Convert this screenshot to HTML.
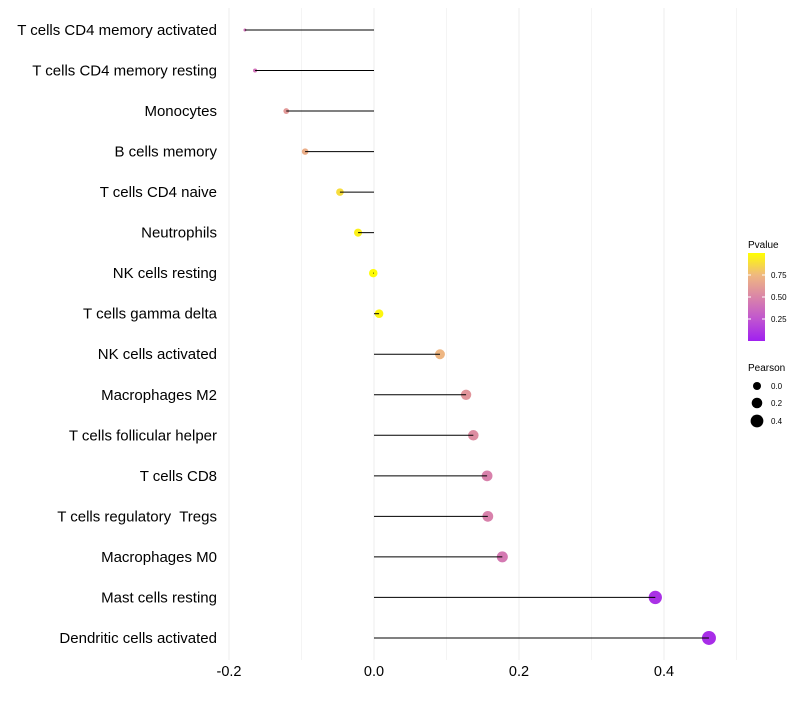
<!DOCTYPE html>
<html><head><meta charset="utf-8"><style>
body{margin:0;background:#fff;font-family:"Liberation Sans",sans-serif}
text{white-space:pre}
</style></head><body>
<svg id="chart" width="800" height="700" xmlns="http://www.w3.org/2000/svg" font-family="Liberation Sans, sans-serif">
<defs><linearGradient id="pg" x1="0" y1="1" x2="0" y2="0">
<stop offset="0" stop-color="#A020F0"/><stop offset="0.25" stop-color="#C055D0"/><stop offset="0.5" stop-color="#DA85A8"/><stop offset="0.75" stop-color="#EFB880"/><stop offset="1" stop-color="#FFFF00"/>
</linearGradient></defs>
<g id="grid"></g><g id="marks"></g><g id="labels"></g>
<g>
<text x="748" y="248" font-size="10" fill="#000">Pvalue</text>
<rect x="748" y="253" width="17" height="88" fill="url(#pg)"/>
<line x1="748" y1="275" x2="751" y2="275" stroke="#fff"/><line x1="762" y1="275" x2="765" y2="275" stroke="#fff"/>
<line x1="748" y1="297" x2="751" y2="297" stroke="#fff"/><line x1="762" y1="297" x2="765" y2="297" stroke="#fff"/>
<line x1="748" y1="319" x2="751" y2="319" stroke="#fff"/><line x1="762" y1="319" x2="765" y2="319" stroke="#fff"/>
<text x="771" y="278" font-size="8">0.75</text><text x="771" y="300" font-size="8">0.50</text><text x="771" y="322" font-size="8">0.25</text>
<text x="748" y="371" font-size="10">Pearson</text>
<circle cx="757" cy="386" r="4"/><text x="771" y="389" font-size="8">0.0</text>
<circle cx="757" cy="403" r="5.3"/><text x="771" y="406" font-size="8">0.2</text>
<circle cx="757" cy="421" r="6.4"/><text x="771" y="424" font-size="8">0.4</text>
</g>
</svg>
<script>
const categories=["T cells CD4 memory activated","T cells CD4 memory resting","Monocytes","B cells memory","T cells CD4 naive","Neutrophils","NK cells resting","T cells gamma delta","NK cells activated","Macrophages M2","T cells follicular helper","T cells CD8","T cells regulatory  Tregs","Macrophages M0","Mast cells resting","Dendritic cells activated"];
const pearson=[-0.178,-0.164,-0.121,-0.095,-0.047,-0.022,-0.001,0.007,0.091,0.127,0.137,0.156,0.157,0.177,0.388,0.462];
const pvalues=[0.4,0.4,0.6,0.7,0.88,0.95,0.99,0.97,0.74,0.58,0.54,0.48,0.48,0.44,0.08,0.06];
const xTicks=[-0.2,0,0.2,0.4];
const xTickLabels=["-0.2","0.0","0.2","0.4"];
const xMinor=[-0.1,0.1,0.3,0.5];
const NS="http://www.w3.org/2000/svg";
const x=v=>374+v*725;
const y=i=>30+i*40.53;
const pmin=Math.min(...pearson),pmax=Math.max(...pearson);
const sz=v=>Math.max(1.5,7/6*(1+5*Math.sqrt((v-pmin)/(pmax-pmin))));
const stops=[[0,[160,32,240]],[0.25,[192,85,208]],[0.5,[218,133,168]],[0.75,[239,184,128]],[1,[255,255,0]]];
function col(p){for(let k=0;k<stops.length-1;k++){const a=stops[k],b=stops[k+1];if(p<=b[0]){const t=(p-a[0])/(b[0]-a[0]);return "rgb("+a[1].map((c,j)=>Math.round(c+(b[1][j]-c)*t)).join(",")+")";}}return "rgb(255,255,0)";}
function mk(t,at,parent){const e=document.createElementNS(NS,t);for(const k in at)e.setAttribute(k,at[k]);parent.appendChild(e);return e;}
const grid=document.getElementById('grid'),marks=document.getElementById('marks'),labels=document.getElementById('labels');
xMinor.concat(xTicks).forEach(v=>{const l=mk('line',{x1:x(v),x2:x(v),y1:8,y2:660,stroke:'#EDEDED','stroke-width':xTicks.includes(v)?1:0.6},grid);

});
xTicks.forEach((v,i)=>{const t=mk('text',{x:x(v),y:676,'font-size':14.5,'text-anchor':'middle',fill:'#000'},labels);t.textContent=xTickLabels[i];

});
categories.forEach((c,i)=>{const t=mk('text',{x:217,y:y(i)+5,'font-size':15,'text-anchor':'end',fill:'#000'},labels);t.textContent=c;


const d=mk('circle',{cx:x(pearson[i]),cy:y(i),r:sz(pearson[i]),fill:col(pvalues[i])},marks);


const s=mk('line',{x1:x(0),x2:x(pearson[i]),y1:y(i),y2:y(i),stroke:'#000','stroke-width':1},marks);

});
</script>
</body></html>
